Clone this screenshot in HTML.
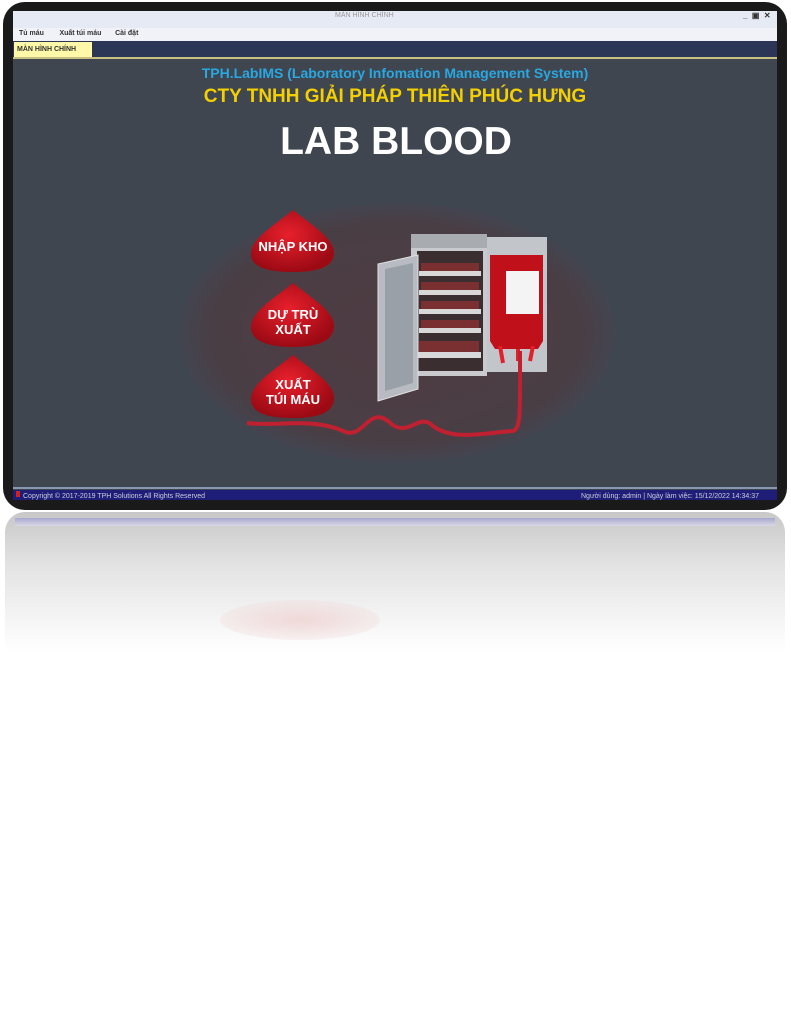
<!DOCTYPE html>
<html><head><meta charset="utf-8"><style>
body{margin:0;width:791px;height:1024px;background:#fff;position:relative;overflow:hidden;font-family:"Liberation Sans",sans-serif}
.abs{position:absolute}
.frame{left:3px;top:2px;width:784px;height:508px;background:#1a1a1a;border-radius:22px}
.screen{left:13px;top:11px;width:764px;height:489px;background:#3f4650;overflow:hidden}
.t{position:absolute;white-space:nowrap;font-weight:bold}
</style></head><body>
<div class="abs frame"></div>
<div class="abs screen">
  <div class="abs" style="left:0;top:0;width:764px;height:17px;background:#e6eaf5"></div>
  <div class="t" style="left:322px;top:1px;font-size:7px;color:#999;font-weight:normal">MÀN HÌNH CHÍNH</div>
  <div class="t" style="left:730px;top:0px;font-size:8px;color:#333">_ &nbsp;▣ &nbsp;✕</div>
  <div class="abs" style="left:0;top:17px;width:764px;height:13px;background:#f0f2f8"></div>
  <div class="t" style="left:6px;top:19px;font-size:7px;color:#333">Tủ máu &nbsp; &nbsp; &nbsp; &nbsp;Xuất túi máu &nbsp; &nbsp; &nbsp; Cài đặt</div>
  <div class="abs" style="left:0;top:30px;width:764px;height:17px;background:#2b3656"></div>
  <div class="abs" style="left:1px;top:31px;width:75px;height:15px;background:#fff8a8;font-size:7px;font-weight:bold;color:#333;line-height:15px;padding-left:3px">MÀN HÌNH CHÍNH</div>
  <div class="abs" style="left:0;top:46px;width:764px;height:2px;background:#c8c080"></div>
  <div class="t" style="left:0;width:764px;text-align:center;top:54px;font-size:14px;color:#2aa7e0">TPH.LabIMS (Laboratory Infomation Management System)</div>
  <div class="t" style="left:0;width:764px;text-align:center;top:75px;font-size:19px;color:#f4d000">CTY TNHH GIẢI PHÁP THIÊN PHÚC HƯNG</div>
  <div class="t" style="left:0;width:766px;text-align:center;top:109px;font-size:39px;color:#fff">LAB BLOOD</div>
  <svg class="abs" style="left:0;top:0" width="764" height="489">
    <defs>
      <radialGradient id="el" cx="50%" cy="50%" r="50%"><stop offset="0" stop-color="#4e3c42"/><stop offset="0.85" stop-color="#4a3e45"/><stop offset="1" stop-color="#434550"/></radialGradient>
      <radialGradient id="dr" cx="45%" cy="40%" r="60%"><stop offset="0" stop-color="#e8202c"/><stop offset="1" stop-color="#9c0a14"/></radialGradient>
    </defs>
    <ellipse cx="384" cy="322" rx="218" ry="130" fill="url(#el)"/>
    <g fill="url(#dr)">
      <path d="M280 199 C300 215 322 228 321 243 C320 258 300 261 280 261 C260 261 238 258 238 243 C238 228 260 215 280 199Z"/>
      <path d="M280 272 C300 288 322 301 321 316 C320 332 300 336 280 336 C260 336 238 332 238 316 C238 301 260 288 280 272Z"/>
      <path d="M280 344 C300 360 322 373 321 388 C320 404 300 407 280 407 C260 407 238 404 238 388 C238 373 260 360 280 344Z"/>
    </g>
    <g fill="#fff" font-weight="bold" font-size="13" text-anchor="middle" font-family="Liberation Sans">
      <text x="280" y="240">NHẬP KHO</text>
      <text x="280" y="308">DỰ TRÙ</text><text x="280" y="323">XUẤT</text>
      <text x="280" y="378">XUẤT</text><text x="280" y="393">TÚI MÁU</text>
    </g>
    <rect x="398" y="223" width="76" height="142" fill="#c8cace"/>
    <rect x="398" y="223" width="76" height="14" fill="#a8abb0"/>
    <rect x="404" y="240" width="66" height="120" fill="#3a2e30"/>
    <g fill="#d8d8d8"><rect x="406" y="260" width="62" height="5"/><rect x="406" y="279" width="62" height="5"/><rect x="406" y="298" width="62" height="5"/><rect x="406" y="317" width="62" height="5"/><rect x="402" y="341" width="66" height="6"/></g>
    <g fill="#7a3030"><rect x="408" y="252" width="58" height="8"/><rect x="408" y="271" width="58" height="8"/><rect x="408" y="290" width="58" height="8"/><rect x="408" y="309" width="58" height="8"/><rect x="406" y="330" width="60" height="11"/></g>
    <path d="M365 253 L405 244 L405 378 L365 390Z" fill="#b8bcc2" stroke="#e0e0e0"/>
    <path d="M372 258 L400 252 L400 372 L372 380Z" fill="#9aa0a8"/>
    <rect x="474" y="226" width="60" height="135" fill="#c2c5ca"/>
    <path d="M477 244 L530 244 L530 330 L525 338 L482 338 L477 330Z" fill="#c0101a"/>
    <rect x="493" y="260" width="33" height="43" fill="#f4f4f4"/>
    <path d="M487 335 L490 352 M505 338 L505 350 M520 335 L517 350" stroke="#e0202a" stroke-width="4"/>
    <path d="M234 412 C260 416 300 406 330 420 C350 430 355 395 375 410 C395 430 405 400 420 415 C440 430 470 422 500 420 C508 418 507 400 507 340" fill="none" stroke="#c02030" stroke-width="4"/>
    <rect x="0" y="476" width="764" height="2" fill="#8898b0"/>
    <rect x="0" y="479" width="764" height="10" fill="#1e1e78"/>
    <rect x="3" y="480" width="4" height="6" fill="#d02020"/>
    <text x="10" y="487" font-size="7" fill="#ccd" font-family="Liberation Sans">Copyright © 2017-2019 TPH Solutions All Rights Reserved</text>
    <text x="568" y="487" font-size="7" fill="#ccd" font-family="Liberation Sans">Người dùng: admin  | Ngày làm việc: 15/12/2022 14:34:37</text>
  </svg>
</div>
<div class="abs" style="left:5px;top:512px;width:780px;height:140px;border-radius:20px 20px 0 0;background:linear-gradient(#c8c8c8,#e4e4e4 40%,#fff 100%)"></div>
<div class="abs" style="left:15px;top:518px;width:760px;height:8px;background:linear-gradient(#a8a8d0,#d8d8e8)"></div>
<div class="abs" style="left:220px;top:600px;width:160px;height:40px;border-radius:50%;background:radial-gradient(#f0d8d8,transparent)"></div>
</body></html>
